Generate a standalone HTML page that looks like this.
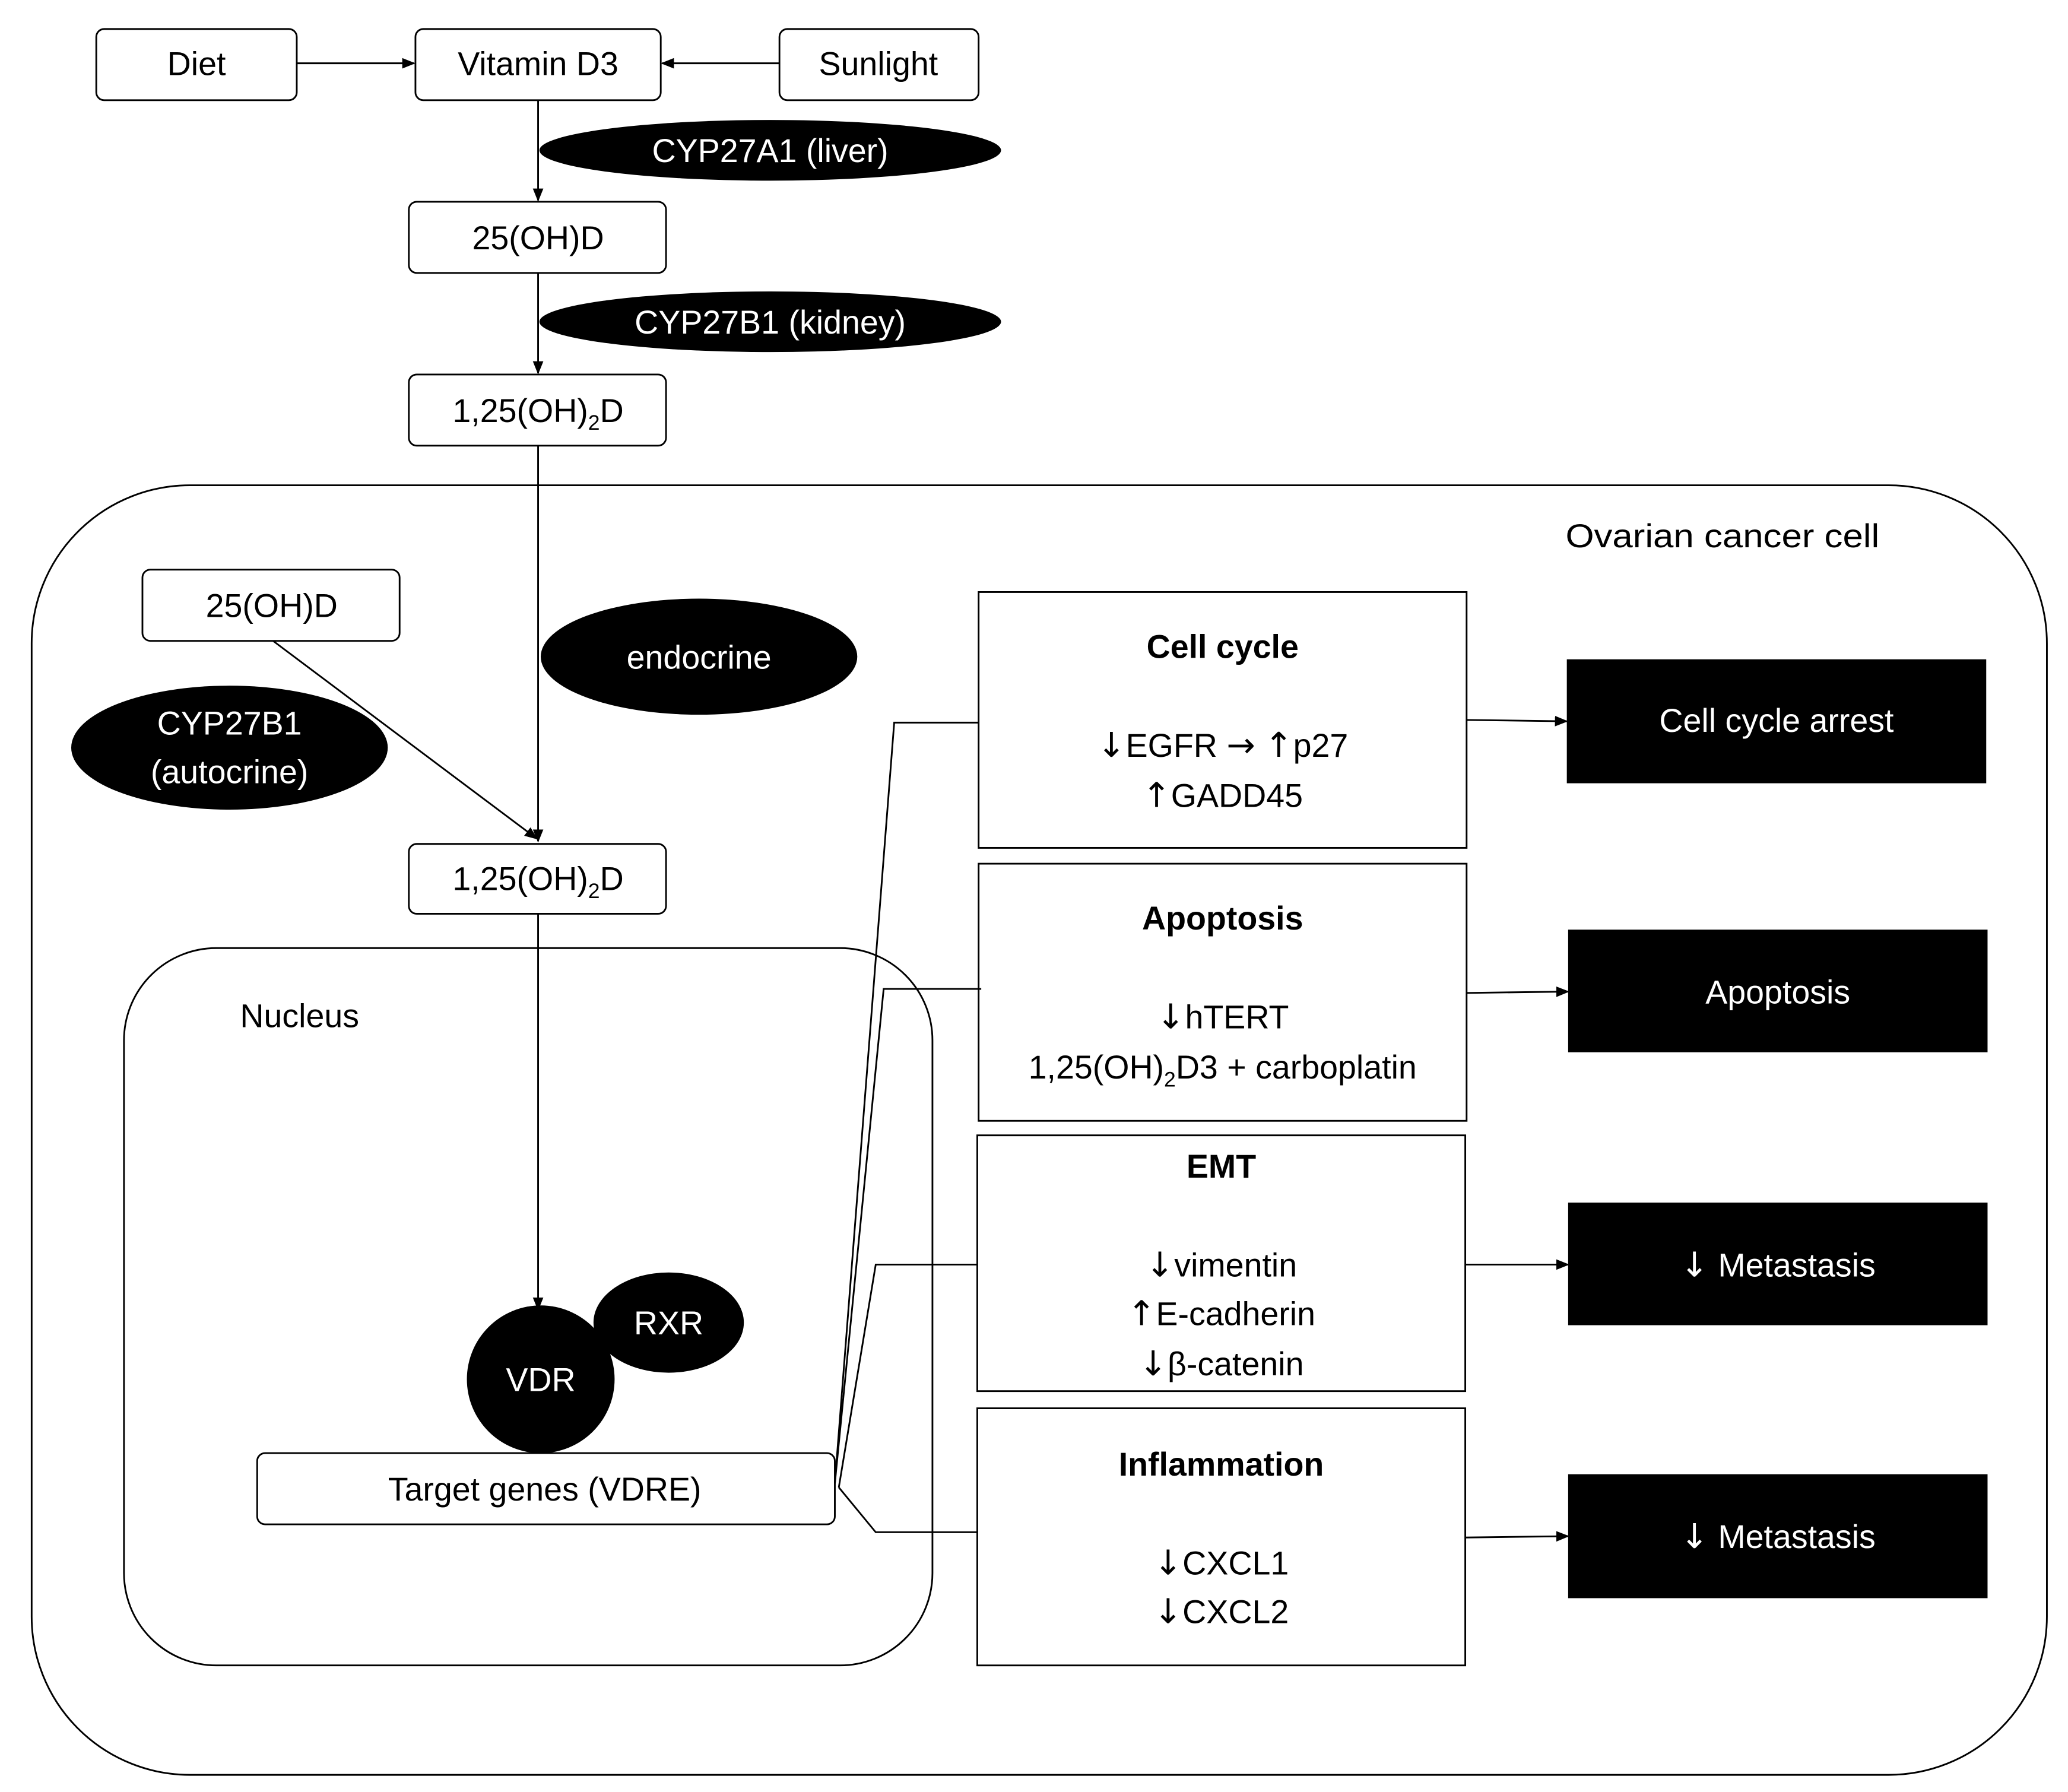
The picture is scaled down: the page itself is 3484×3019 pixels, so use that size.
<!DOCTYPE html>
<html><head><meta charset="utf-8"><style>
html,body{margin:0;padding:0;background:#fff;}
svg{display:block;}
text{font-family:"Liberation Sans",sans-serif;font-size:25px;fill:#000;}
.w{fill:#fff;}
.b{font-weight:bold;}
.ar{font-family:"DejaVu Sans",sans-serif;font-size:26px;}
</style></head><body>
<svg width="3484" height="3019" viewBox="0 0 1568 1359" preserveAspectRatio="none" xmlns="http://www.w3.org/2000/svg">
<defs><marker id="a" markerWidth="10" markerHeight="8" refX="9" refY="4" orient="auto" markerUnits="userSpaceOnUse"><path d="M0,0 L10,4 L0,8 z" fill="#000"/></marker></defs>
<g fill="#fff" stroke="#000" stroke-width="1.3">
<rect x="24" y="368" width="1528" height="978" rx="120"/>
<rect x="94" y="719" width="613" height="544" rx="70"/>
<rect x="73" y="22" width="152" height="54" rx="6"/>
<rect x="315" y="22" width="186" height="54" rx="6"/>
<rect x="591" y="22" width="151" height="54" rx="6"/>
<rect x="310" y="153" width="195" height="54" rx="6"/>
<rect x="310" y="284" width="195" height="54" rx="6"/>
<rect x="108" y="432" width="195" height="54" rx="6"/>
<rect x="310" y="640" width="195" height="53" rx="6"/>
<rect x="195" y="1102" width="438" height="54" rx="6"/>
<rect x="742" y="449" width="370" height="194"/>
<rect x="742" y="655" width="370" height="195"/>
<rect x="741" y="861" width="370" height="194"/>
<rect x="741" y="1068" width="370" height="195"/>
</g>
<g stroke="#000" stroke-width="1.3" fill="none">
<line x1="225" y1="48" x2="314" y2="48" marker-end="url(#a)"/>
<line x1="591" y1="48" x2="502" y2="48" marker-end="url(#a)"/>
<line x1="408" y1="76" x2="408" y2="152" marker-end="url(#a)"/>
<line x1="408" y1="207" x2="408" y2="283" marker-end="url(#a)"/>
<line x1="408" y1="338" x2="408" y2="638" marker-end="url(#a)"/>
<line x1="207" y1="486" x2="407" y2="636" marker-end="url(#a)"/>
<line x1="408" y1="693" x2="408" y2="993" marker-end="url(#a)"/>
<polyline points="633,1125 678,548 742,548"/>
<polyline points="633,1125 670,750 744,750"/>
<polyline points="636,1128 664,959 741,959"/>
<polyline points="636,1128 664,1162 741,1162"/>
<line x1="1112" y1="546" x2="1188" y2="547" marker-end="url(#a)"/>
<line x1="1112" y1="753" x2="1189" y2="752" marker-end="url(#a)"/>
<line x1="1111" y1="959" x2="1189" y2="959" marker-end="url(#a)"/>
<line x1="1111" y1="1166" x2="1189" y2="1165" marker-end="url(#a)"/>
</g>
<g fill="#000">
<ellipse cx="584" cy="114" rx="175" ry="23"/>
<ellipse cx="584" cy="244" rx="175" ry="23"/>
<ellipse cx="530" cy="498" rx="120" ry="44"/>
<ellipse cx="174" cy="567" rx="120" ry="47"/>
<ellipse cx="507" cy="1003" rx="57" ry="38"/>
<circle cx="410" cy="1046" r="56"/>
<rect x="1188" y="500" width="318" height="94"/>
<rect x="1189" y="705" width="318" height="93"/>
<rect x="1189" y="912" width="318" height="93"/>
<rect x="1189" y="1118" width="318" height="94"/>
</g>
<g text-anchor="middle">
<text x="149" y="57">Diet</text>
<text x="408" y="57">Vitamin D3</text>
<text x="666" y="57">Sunlight</text>
<text class="w" x="584" y="123">CYP27A1 (liver)</text>
<text x="408" y="189">25(OH)D</text>
<text class="w" x="584" y="253">CYP27B1 (kidney)</text>
<text x="408" y="320">1,25(OH)<tspan font-size="16" dy="6">2</tspan><tspan dy="-6">D</tspan></text>
<text x="206" y="468">25(OH)D</text>
<text class="w" x="530" y="507">endocrine</text>
<text class="w" x="174" y="557">CYP27B1</text>
<text class="w" x="174" y="594">(autocrine)</text>
<text x="408" y="675">1,25(OH)<tspan font-size="16" dy="6">2</tspan><tspan dy="-6">D</tspan></text>
<text class="w" x="507" y="1012">RXR</text>
<text class="w" x="410" y="1055">VDR</text>
<text x="413" y="1138">Target genes (VDRE)</text>
<text class="b" x="927" y="499">Cell cycle</text>
<text x="927" y="574"><tspan class="ar">↓</tspan>EGFR <tspan class="ar">→</tspan> <tspan class="ar">↑</tspan>p27</text>
<text x="927" y="612"><tspan class="ar">↑</tspan>GADD45</text>
<text class="b" x="927" y="705">Apoptosis</text>
<text x="927" y="780"><tspan class="ar">↓</tspan>hTERT</text>
<text x="927" y="818">1,25(OH)<tspan font-size="16" dy="6">2</tspan><tspan dy="-6">D3 + carboplatin</tspan></text>
<text class="b" x="926" y="893">EMT</text>
<text x="926" y="968"><tspan class="ar">↓</tspan>vimentin</text>
<text x="926" y="1005"><tspan class="ar">↑</tspan>E-cadherin</text>
<text x="926" y="1043"><tspan class="ar">↓</tspan>β-catenin</text>
<text class="b" x="926" y="1119">Inflammation</text>
<text x="926" y="1194"><tspan class="ar">↓</tspan>CXCL1</text>
<text x="926" y="1231"><tspan class="ar">↓</tspan>CXCL2</text>
<text class="w" x="1347" y="555">Cell cycle arrest</text>
<text class="w" x="1348" y="761">Apoptosis</text>
<text class="w" x="1348" y="968"><tspan class="ar w">↓</tspan> Metastasis</text>
<text class="w" x="1348" y="1174"><tspan class="ar w">↓</tspan> Metastasis</text>
</g>
<text x="1187" y="415" textLength="238" lengthAdjust="spacingAndGlyphs">Ovarian cancer cell</text>
<text x="182" y="779">Nucleus</text>
</svg>
</body></html>
